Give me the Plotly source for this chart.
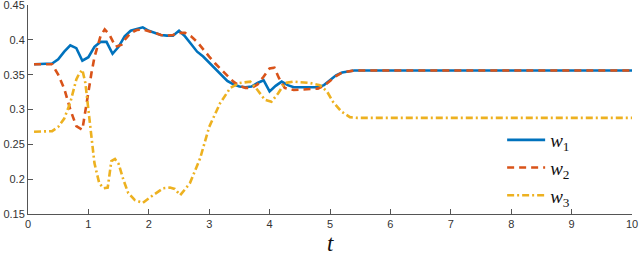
import plotly.graph_objects as go

t1 = [0.1, 0.4, 0.5, 0.6, 0.7, 0.8, 0.9, 1.0, 1.1, 1.2, 1.3, 1.4, 1.5, 1.6, 1.7, 1.8, 1.9,
      2.0, 2.1, 2.2, 2.3, 2.4, 2.5, 2.6, 2.7, 2.8, 2.9, 3.0, 3.1, 3.2, 3.3, 3.4, 3.5, 3.6,
      3.7, 3.8, 3.9, 4.0, 4.1, 4.2, 4.3, 4.4, 4.8, 4.9, 5.0, 5.1, 5.2, 5.3, 5.4, 10]
w1 = [0.365, 0.366, 0.372, 0.383, 0.392, 0.388, 0.370, 0.375, 0.390, 0.397, 0.397, 0.380,
      0.390, 0.405, 0.413, 0.416, 0.418, 0.413, 0.410, 0.407, 0.406, 0.406, 0.413, 0.405,
      0.394, 0.383, 0.376, 0.367, 0.358, 0.349, 0.341, 0.336, 0.333, 0.332, 0.333, 0.338,
      0.342, 0.326, 0.334, 0.340, 0.335, 0.332, 0.332, 0.335, 0.342, 0.349, 0.353, 0.355,
      0.356, 0.356]

t2 = [0.1, 0.4, 0.5, 0.6, 0.7, 0.8, 0.9, 0.95, 1.0, 1.05, 1.1, 1.2, 1.27, 1.35, 1.45, 1.55,
      1.6, 1.7, 1.8, 1.9, 2.0, 2.1, 2.2, 2.3, 2.4, 2.5, 2.6, 2.7, 2.8, 2.9, 3.0, 3.1, 3.2,
      3.3, 3.4, 3.5, 3.6, 3.7, 3.8, 3.9, 4.0, 4.08, 4.15, 4.25, 4.4, 4.8, 4.9, 5.0, 5.1,
      5.2, 5.3, 5.4, 10]
w2 = [0.365, 0.365, 0.35, 0.33, 0.30, 0.276, 0.271, 0.295, 0.325, 0.352, 0.375, 0.405,
      0.415, 0.407, 0.39, 0.393, 0.400, 0.410, 0.414, 0.415, 0.413, 0.410, 0.407, 0.406,
      0.407, 0.410, 0.410, 0.405, 0.397, 0.386, 0.376, 0.366, 0.357, 0.348, 0.340, 0.334,
      0.331, 0.331, 0.336, 0.347, 0.359, 0.36, 0.346, 0.331, 0.328, 0.330, 0.334, 0.341,
      0.348, 0.353, 0.355, 0.356, 0.356]

t3 = [0.1, 0.4, 0.5, 0.6, 0.7, 0.8, 0.85, 0.9, 0.95, 1.0, 1.05, 1.1, 1.18, 1.25, 1.32, 1.38,
      1.44, 1.5, 1.58, 1.66, 1.77, 1.9, 2.07, 2.24, 2.35, 2.43, 2.52, 2.68, 2.85, 3.0, 3.18,
      3.35, 3.5, 3.68, 3.8, 3.92, 4.03, 4.14, 4.25, 4.4, 4.67, 4.83, 4.95, 5.05, 5.19, 5.33,
      5.45, 10]
w3 = [0.268, 0.269, 0.275, 0.287, 0.31, 0.343, 0.352, 0.357, 0.338, 0.300, 0.256, 0.223,
      0.194, 0.187, 0.188, 0.226, 0.229, 0.222, 0.199, 0.180, 0.170, 0.166, 0.177, 0.187,
      0.188, 0.186, 0.177, 0.194, 0.230, 0.275, 0.309, 0.331, 0.338, 0.340, 0.328, 0.314,
      0.311, 0.323, 0.338, 0.340, 0.338, 0.335, 0.326, 0.311, 0.297, 0.289, 0.288, 0.288]

x_ticks = [0, 1, 2, 3, 4, 5, 6, 7, 8, 9, 10]
y_ticks = [0.15, 0.2, 0.25, 0.3, 0.35, 0.4, 0.45]
y_labels = ["0.15", "0.2", "0.25", "0.3", "0.35", "0.4", "0.45"]

fig = go.Figure()
fig.add_trace(go.Scatter(x=t1, y=w1, mode="lines", name="<i>w</i><sub>1</sub>",
                         line=dict(color="#0072BD", width=2.6)))
fig.add_trace(go.Scatter(x=t2, y=w2, mode="lines", name="<i>w</i><sub>2</sub>",
                         line=dict(color="#D95319", width=2.6, dash="7px,5px")))
fig.add_trace(go.Scatter(x=t3, y=w3, mode="lines", name="<i>w</i><sub>3</sub>",
                         line=dict(color="#EDB120", width=2.6, dash="7px,3px,2px,3px")))

axis_common = dict(showline=True, linecolor="#555555", linewidth=1, ticks="inside",
                   ticklen=5, tickcolor="#555555", showgrid=False, zeroline=False,
                   automargin=False, ticklabeloverflow="allow",
                   tickfont=dict(family="Liberation Sans, Arial", size=11, color="#333333"))

fig.update_layout(
    width=640, height=255,
    margin=dict(l=28, r=8, t=5, b=41),
    plot_bgcolor="white", paper_bgcolor="white",
    xaxis=dict(range=[0, 10], tickvals=x_ticks, **axis_common),
    yaxis=dict(range=[0.15, 0.45], tickvals=y_ticks, ticktext=y_labels, **axis_common),
    legend=dict(x=0.785, xanchor="left", y=0.22, yanchor="middle",
                bgcolor="rgba(0,0,0,0)", tracegroupgap=0, itemwidth=38,
                font=dict(family="Liberation Serif, DejaVu Serif", size=19, color="#111111")),
    annotations=[dict(text="<i>t</i>", x=0.5, xref="paper", y=-0.14, yref="paper",
                      xanchor="center", yanchor="middle", showarrow=False,
                      font=dict(family="Liberation Serif, DejaVu Serif", size=23, color="#111111"))],
)

fig.write_html("out.html", post_script="document.body.style.margin='0';",
               config={"displayModeBar": False})
